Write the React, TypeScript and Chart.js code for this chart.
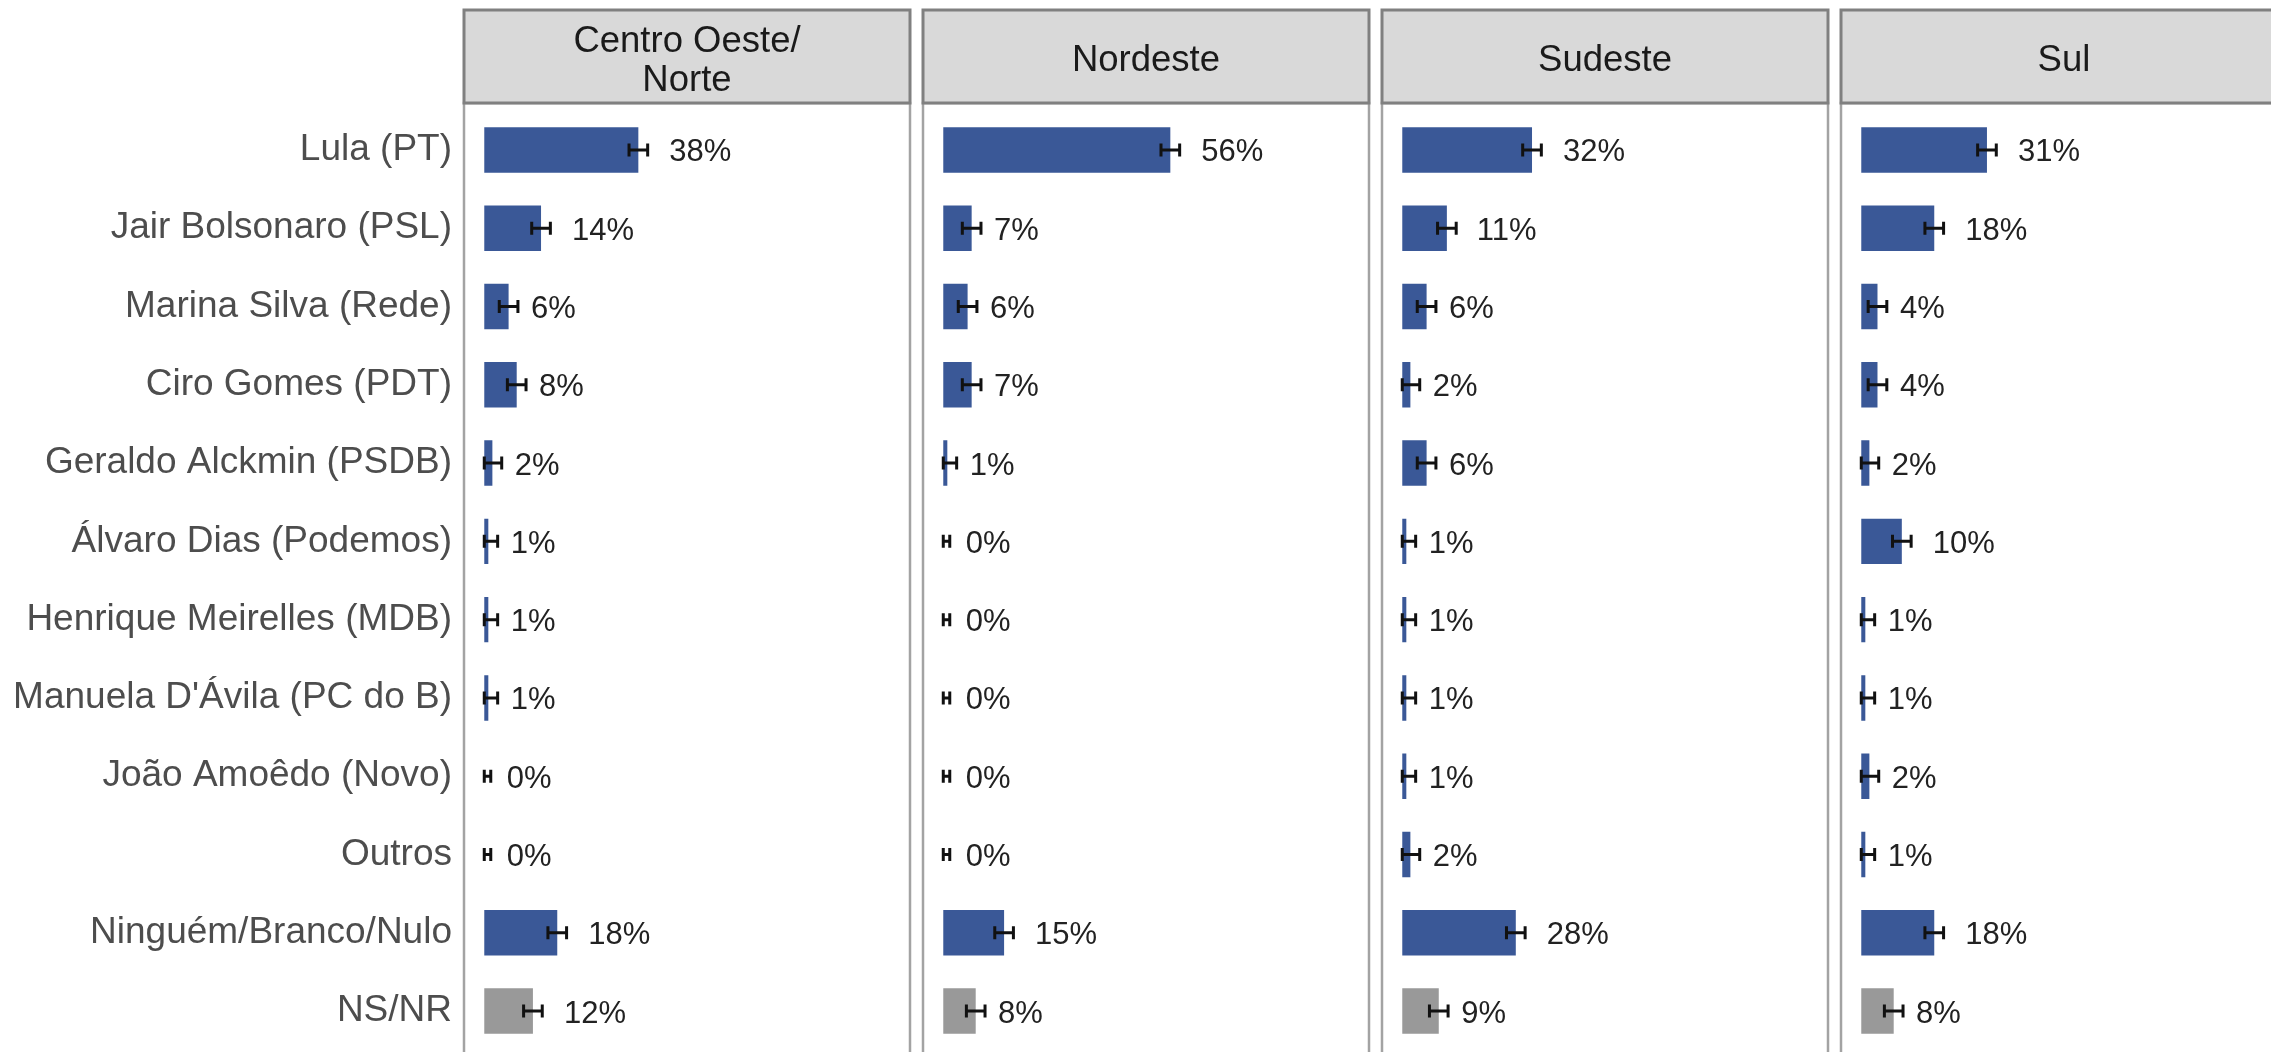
import React, { useEffect, useRef } from "react";
import { Chart, registerables } from "chart.js";

Chart.register(...registerables);

// ---------- data ----------
const candidates = [
  "Lula (PT)",
  "Jair Bolsonaro (PSL)",
  "Marina Silva (Rede)",
  "Ciro Gomes (PDT)",
  "Geraldo Alckmin (PSDB)",
  "Álvaro Dias (Podemos)",
  "Henrique Meirelles (MDB)",
  "Manuela D'Ávila (PC do B)",
  "João Amoêdo (Novo)",
  "Outros",
  "Ninguém/Branco/Nulo",
  "NS/NR",
];

const regions = ["Centro Oeste/\nNorte", "Nordeste", "Sudeste", "Sul"];

const centroOesteNorte = [38, 14, 6, 8, 2, 1, 1, 1, 0, 0, 18, 12];
const nordeste = [56, 7, 6, 7, 1, 0, 0, 0, 0, 0, 15, 8];
const sudeste = [32, 11, 6, 2, 6, 1, 1, 1, 1, 2, 28, 9];
const sul = [31, 18, 4, 4, 2, 10, 1, 1, 2, 1, 18, 8];

// error-bar half widths (percentage points)
const marginCentroOesteNorte = [2.3, 2.3, 2.3, 2.3, 2.3, 2.3, 2.3, 2.3, 1.6, 1.6, 2.3, 2.3];
const marginNordeste = [2.3, 2.3, 2.3, 2.3, 2.3, 1.6, 1.6, 1.6, 1.6, 1.6, 2.3, 2.3];
const marginSudeste = [2.3, 2.3, 2.3, 2.3, 2.3, 2.3, 2.3, 2.3, 2.3, 2.3, 2.3, 2.3];
const marginSul = [2.3, 2.3, 2.3, 2.3, 2.3, 2.3, 2.3, 2.3, 2.3, 2.3, 2.3, 2.3];

const regionValues = [centroOesteNorte, nordeste, sudeste, sul];
const regionMargins = [marginCentroOesteNorte, marginNordeste, marginSudeste, marginSul];

const X_MIN = -5;
const X_MAX = 105;

// ---------- styling / layout ----------
const BLUE = "#3a5897";
const GRAY = "#999999";
const FONT = '"Liberation Sans", Arial, Helvetica, sans-serif';

const PANEL_LEFTS = [464, 923, 1382, 1841];
const PANEL_W = 446;
const STRIP_TOP = 10;
const STRIP_BOTTOM = 103;
const PANEL_BOTTOM = 1058;
const CANVAS_H = 1064;
const EXPAND = 7.8;

function makeFacetPlugin(title: string, margins: number[]) {
  return {
    id: "facet",
    afterDatasetsDraw(chart: any) {
      const ctx = chart.ctx;
      const xs = chart.scales.x;
      const ys = chart.scales.y;
      const vals: number[] = chart.data.datasets[0].data;
      ctx.save();
      vals.forEach((v, i) => {
        const y = ys.getPixelForValue(i);
        const lo = xs.getPixelForValue(Math.max(0, v - margins[i]));
        const hi = xs.getPixelForValue(v + margins[i]);
        ctx.strokeStyle = "#111111";
        ctx.lineWidth = 3;
        ctx.beginPath();
        ctx.moveTo(lo, y);
        ctx.lineTo(hi, y);
        ctx.moveTo(lo, y - 6.5);
        ctx.lineTo(lo, y + 6.5);
        ctx.moveTo(hi, y - 6.5);
        ctx.lineTo(hi, y + 6.5);
        ctx.stroke();

        const label = `${Math.round(v)}%`;
        ctx.font = `31px ${FONT}`;
        const w = ctx.measureText(label).width;
        ctx.fillStyle = "#222222";
        ctx.textAlign = "left";
        ctx.textBaseline = "alphabetic";
        ctx.fillText(label, xs.getPixelForValue(v) + w / 2, y + 11.5);
      });
      ctx.restore();
    },
    afterDraw(chart: any) {
      const ctx = chart.ctx;
      const { left, right } = chart.chartArea;
      ctx.save();
      // panel border
      ctx.strokeStyle = "#a3a3a3";
      ctx.lineWidth = 2.5;
      ctx.strokeRect(left, STRIP_BOTTOM, right - left, PANEL_BOTTOM - STRIP_BOTTOM);
      // strip
      ctx.fillStyle = "#d9d9d9";
      ctx.fillRect(left, STRIP_TOP, right - left, STRIP_BOTTOM - STRIP_TOP);
      ctx.strokeStyle = "#808080";
      ctx.lineWidth = 3;
      ctx.strokeRect(left, STRIP_TOP, right - left, STRIP_BOTTOM - STRIP_TOP);
      // strip text
      ctx.fillStyle = "#1a1a1a";
      ctx.font = `36.5px ${FONT}`;
      ctx.textAlign = "center";
      ctx.textBaseline = "alphabetic";
      const lines = title.split("\n");
      const lh = 39;
      const cx = (left + right) / 2;
      const cy = 58;
      const capH = 36.5 * 0.716;
      lines.forEach((ln, k) => {
        const offset = (k - (lines.length - 1) / 2) * lh;
        ctx.fillText(ln, cx, cy + offset + capH / 2);
      });
      ctx.restore();
    },
  };
}

function Panel({ index }: { index: number }) {
  const ref = useRef<HTMLCanvasElement | null>(null);
  const isFirst = index === 0;
  const canvasLeft = isFirst ? 0 : PANEL_LEFTS[index] - 4;
  const panelRight = PANEL_LEFTS[index] + PANEL_W;
  const canvasW = panelRight + 4 - canvasLeft;

  useEffect(() => {
    if (!ref.current) return;
    const values = regionValues[index];
    const margins = regionMargins[index];
    const areaTop = STRIP_BOTTOM + EXPAND;
    const areaBottom = PANEL_BOTTOM - EXPAND;
    const chart = new Chart(ref.current, {
      type: "bar",
      data: {
        labels: candidates,
        datasets: [
          {
            data: values,
            backgroundColor: candidates.map((c) => (c === "NS/NR" ? GRAY : BLUE)),
            borderWidth: 0,
            barPercentage: 0.58,
            categoryPercentage: 1,
          },
        ],
      },
      options: {
        indexAxis: "y",
        animation: false,
        responsive: false,
        devicePixelRatio: 1,
        layout: {
          padding: {
            left: isFirst ? 0 : 4,
            right: 4,
            top: areaTop,
            bottom: CANVAS_H - areaBottom,
          },
        },
        plugins: {
          legend: { display: false },
          tooltip: { enabled: false },
          title: { display: false },
        },
        scales: {
          x: {
            type: "linear",
            min: X_MIN,
            max: X_MAX,
            display: false,
          },
          y: {
            type: "category",
            display: isFirst,
            offset: true,
            grid: { display: false, drawTicks: false },
            border: { display: false },
            ticks: {
              autoSkip: false,
              padding: 12,
              color: "#4d4d4d",
              font: { family: FONT, size: 37 },
            },
            afterFit: (scale: any) => {
              if (isFirst) scale.width = PANEL_LEFTS[0];
              scale.paddingTop = 0;
              scale.paddingBottom = 0;
            },
          },
        },
      },
      plugins: [makeFacetPlugin(regions[index], margins)],
    } as any);
    return () => chart.destroy();
  }, [index]);

  return (
    <canvas
      ref={ref}
      width={canvasW}
      height={CANVAS_H}
      style={{ position: "absolute", left: canvasLeft, top: 0, width: canvasW, height: CANVAS_H }}
    />
  );
}

export default function App() {
  return (
    <div
      style={{
        position: "fixed",
        left: 0,
        top: 0,
        width: 2271,
        height: 1052,
        overflow: "hidden",
        background: "#ffffff",
      }}
    >
      {regions.map((_, i) => (
        <Panel key={i} index={i} />
      ))}
    </div>
  );
}
